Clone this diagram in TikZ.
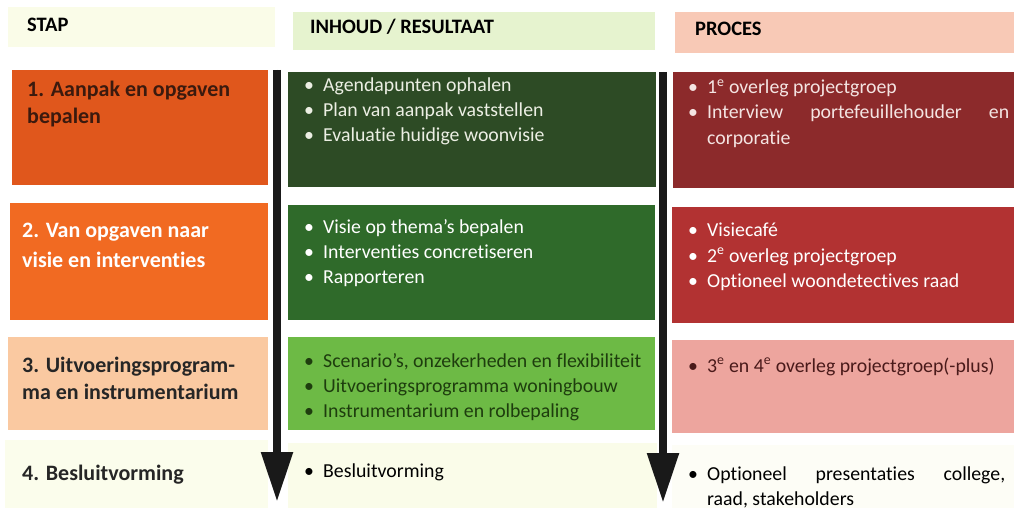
\documentclass[tikz,border=0pt]{standalone}
\usepackage{fontspec}
\setmainfont{Carlito}[Ligatures=NoCommon]
\usetikzlibrary{arrows.meta}
\definecolor{hstap}{HTML}{FAFCE8}
\definecolor{hinh}{HTML}{E6F3CF}
\definecolor{hpro}{HTML}{F8C9B6}
\definecolor{sA}{HTML}{E0571C}
\definecolor{sB}{HTML}{F16A22}
\definecolor{sC}{HTML}{FAC9A1}
\definecolor{sD}{HTML}{FBFDEC}
\definecolor{iA}{HTML}{2D4B25}
\definecolor{iB}{HTML}{2F6A2A}
\definecolor{iC}{HTML}{6DBA45}
\definecolor{iD}{HTML}{FAFCE9}
\definecolor{pA}{HTML}{8C2A2B}
\definecolor{pB}{HTML}{B23232}
\definecolor{pC}{HTML}{EDA59E}
\definecolor{pD}{HTML}{FDFDF6}
\definecolor{tA}{HTML}{3B1A0E}
\definecolor{tiC}{HTML}{1E3D0E}
\definecolor{tpC}{HTML}{4A1A1A}
\definecolor{lightA}{HTML}{ECEFE4}
\definecolor{lightP}{HTML}{F4E4E2}
\newcommand\bul{\makebox[19pt][l]{\textbullet}}
\begin{document}
\begin{tikzpicture}[x=1pt,y=-1pt,
  box/.style={rectangle,inner sep=0pt,outer sep=0pt,anchor=north west,draw=none},
  head/.style={anchor=base west,inner sep=0pt,font=\fontsize{20.5}{24}\selectfont\bfseries},
  stp/.style={anchor=base west,inner sep=0pt,font=\fontsize{22}{26}\selectfont\bfseries},
  itm/.style={anchor=base west,inner sep=0pt,font=\fontsize{19.8}{24}\selectfont},
  bigarrow/.style={line width=8.5pt,-{Triangle[width=30pt,length=50pt]}}]
\useasboundingbox (0,0) rectangle (1014,508);
% header bands
\node[box,fill=hstap,minimum width=267pt,minimum height=40pt] (hs) at (8,7) {};
\node[box,fill=hinh,minimum width=362pt,minimum height=38pt] (hi) at (293,12) {};
\node[box,fill=hpro,minimum width=339pt,minimum height=41pt] (hp) at (675,12) {};
\node[head] (ths) at (27,32) {STAP};
\node[head] (thi) at (310,34) {INHOUD / RESULTAAT};
\node[head] (thp) at (695,36) {PROCES};
% row boxes
\node[box,fill=sA,minimum width=256pt,minimum height=115pt] (s1) at (12,70) {};
\node[box,fill=iA,minimum width=368pt,minimum height=115pt] (i1) at (288,72) {};
\node[box,fill=pA,minimum width=341pt,minimum height=116pt] (p1) at (673,72) {};
\node[box,fill=sB,minimum width=258pt,minimum height=117pt] (s2) at (10,203) {};
\node[box,fill=iB,minimum width=367pt,minimum height=115pt] (i2) at (288,205) {};
\node[box,fill=pB,minimum width=342pt,minimum height=116pt] (p2) at (672,207) {};
\node[box,fill=sC,minimum width=260pt,minimum height=93pt] (s3) at (8,337) {};
\node[box,fill=iC,minimum width=367pt,minimum height=93pt] (i3) at (288,337) {};
\node[box,fill=pC,minimum width=342pt,minimum height=93pt] (p3) at (672,340) {};
\node[box,fill=sD,minimum width=263pt,minimum height=68pt] (s4) at (5,440) {};
\node[box,fill=iD,minimum width=369pt,minimum height=65pt] (i4) at (288,443) {};
\node[box,fill=pD,minimum width=342pt,minimum height=63pt] (p4) at (672,445) {};
% stap texts
\node[stp,text=tA] (s1a) at (27,97) {1. Aanpak en opgaven};
\node[stp,text=tA] (s1b) at (27,124) {bepalen};
\node[stp,text=white] (s2a) at (22,237) {2. Van opgaven naar};
\node[stp,text=white] (s2b) at (22,267) {visie en interventies};
\node[stp,text=black!85] (s3a) at (22,372) {3. Uitvoeringsprogram-};
\node[stp,text=black!85] (s3b) at (22,399) {ma en instrumentarium};
\node[stp,text=black!85] (s4a) at (22,480) {4. Besluitvorming};
% inhoud texts
\node[itm,text=lightA] (i1a) at (304,92) {\bul Agendapunten ophalen};
\node[itm,text=lightA] (i1b) at (304,117) {\bul Plan van aanpak vaststellen};
\node[itm,text=lightA] (i1c) at (304,142) {\bul Evaluatie huidige woonvisie};
\node[itm,text=white] (i2a) at (304,233) {\bul Visie op thema’s bepalen};
\node[itm,text=white] (i2b) at (304,258) {\bul Interventies concretiseren};
\node[itm,text=white] (i2c) at (304,283) {\bul Rapporteren};
\node[itm,text=tiC] (i3a) at (304,367) {\bul Scenario’s, onzekerheden en flexibiliteit};
\node[itm,text=tiC] (i3b) at (304,392) {\bul Uitvoeringsprogramma woningbouw};
\node[itm,text=tiC] (i3c) at (304,417) {\bul Instrumentarium en rolbepaling};
\node[itm,text=black] (i4a) at (304,477) {\bul Besluitvorming};
% proces texts
\node[itm,text=lightP] (p1a) at (688,94) {\bul 1\textsuperscript{e} overleg projectgroep};
\node[itm,text=lightP] (p1b) at (688,119) {\bul\hbox to 302pt{Interview\hfill portefeuillehouder\hfill en}};
\node[itm,text=lightP] (p1c) at (707,144) {corporatie};
\node[itm,text=white] (p2a) at (688,236) {\bul Visiecafé};
\node[itm,text=white] (p2b) at (688,262) {\bul 2\textsuperscript{e} overleg projectgroep};
\node[itm,text=white] (p2c) at (688,287) {\bul Optioneel woondetectives raad};
\node[itm,text=tpC] (p3a) at (688,372) {\bul 3\textsuperscript{e} en 4\textsuperscript{e} overleg projectgroep(-plus)};
\node[itm,text=black] (p4a) at (688,480) {\bul\hbox to 298pt{Optioneel\hfill presentaties\hfill college,}};
\node[itm,text=black] (p4b) at (707,505) {raad, stakeholders};
% arrows
\coordinate (a1s) at (277,70);
\coordinate (a1e) at (277,502);
\coordinate (a2s) at (663,72);
\coordinate (a2e) at (663,503);
\draw[bigarrow,draw=black!90,fill=black!90] (a1s) -- (a1e);
\draw[bigarrow,draw=black!90,fill=black!90] (a2s) -- (a2e);
\end{tikzpicture}
\end{document}
